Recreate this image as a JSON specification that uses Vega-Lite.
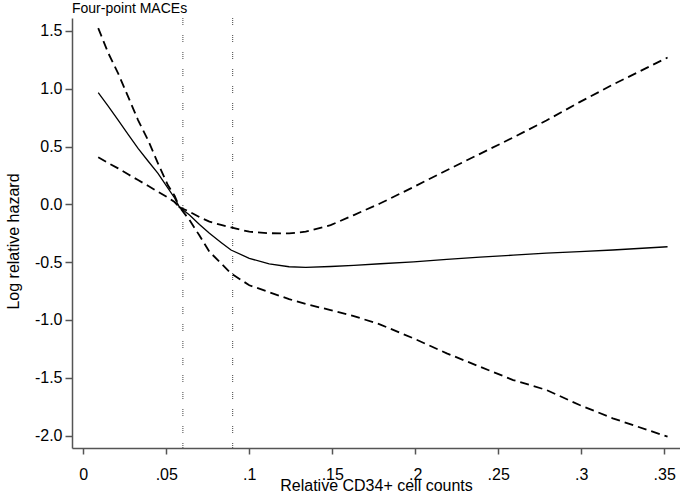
{
  "$schema": "https://vega.github.io/schema/vega-lite/v6.json",
  "width": 608,
  "height": 430,
  "autosize": {"type": "none"},
  "padding": {"left": 72, "top": 18, "right": 0, "bottom": 46},
  "background": "white",
  "title": {"text": "Four-point MACEs", "anchor": "start", "frame": "group", "fontSize": 14, "fontWeight": "normal", "font": "Liberation Sans", "color": "#000000", "offset": 2},
  "config": {
    "view": {"stroke": null},
    "axis": {"grid": false, "labelFont": "Liberation Sans", "titleFont": "Liberation Sans", "labelColor": "#000000", "titleColor": "#000000", "domainColor": "#555555", "tickColor": "#555555", "domainWidth": 1.5, "tickWidth": 1.5, "labelFontSize": 16, "titleFontSize": 16, "titleFontWeight": "normal"}
  },
  "data": {"values": [
    {"x": 0.009, "est": 0.966, "lo": 0.407, "hi": 1.525},
    {"x": 0.015, "est": 0.85, "lo": 0.358, "hi": 1.31},
    {"x": 0.021, "est": 0.729, "lo": 0.311, "hi": 1.133},
    {"x": 0.027, "est": 0.606, "lo": 0.26, "hi": 0.931},
    {"x": 0.033, "est": 0.484, "lo": 0.21, "hi": 0.729},
    {"x": 0.039, "est": 0.375, "lo": 0.16, "hi": 0.556},
    {"x": 0.045, "est": 0.268, "lo": 0.109, "hi": 0.355},
    {"x": 0.051, "est": 0.14, "lo": 0.058, "hi": 0.165},
    {"x": 0.055, "est": 0.055, "lo": 0.02, "hi": 0.075},
    {"x": 0.058, "est": -0.025, "lo": -0.025, "hi": -0.025},
    {"x": 0.064, "est": -0.093, "lo": -0.136, "hi": -0.064},
    {"x": 0.07, "est": -0.175, "lo": -0.27, "hi": -0.11},
    {"x": 0.076, "est": -0.251, "lo": -0.41, "hi": -0.15},
    {"x": 0.083, "est": -0.33, "lo": -0.51, "hi": -0.178},
    {"x": 0.089, "est": -0.395, "lo": -0.597, "hi": -0.2},
    {"x": 0.1, "est": -0.467, "lo": -0.7, "hi": -0.237},
    {"x": 0.112, "est": -0.516, "lo": -0.76, "hi": -0.25},
    {"x": 0.124, "est": -0.54, "lo": -0.82, "hi": -0.252},
    {"x": 0.134, "est": -0.545, "lo": -0.862, "hi": -0.237},
    {"x": 0.149, "est": -0.538, "lo": -0.915, "hi": -0.18},
    {"x": 0.163, "est": -0.528, "lo": -0.967, "hi": -0.093},
    {"x": 0.179, "est": -0.514, "lo": -1.04, "hi": 0.009},
    {"x": 0.199, "est": -0.498, "lo": -1.16, "hi": 0.15},
    {"x": 0.219, "est": -0.476, "lo": -1.289, "hi": 0.295},
    {"x": 0.239, "est": -0.457, "lo": -1.405, "hi": 0.437},
    {"x": 0.259, "est": -0.44, "lo": -1.52, "hi": 0.578},
    {"x": 0.279, "est": -0.422, "lo": -1.606, "hi": 0.725},
    {"x": 0.299, "est": -0.409, "lo": -1.736, "hi": 0.884},
    {"x": 0.319, "est": -0.395, "lo": -1.851, "hi": 1.035},
    {"x": 0.352, "est": -0.367, "lo": -2.01, "hi": 1.27}
  ]},
  "layer": [
    {
      "data": {"values": [{"ref": 0.06}, {"ref": 0.09}]},
      "mark": {"type": "rule", "color": "#444444", "strokeWidth": 1, "strokeDash": [1, 1, 1, 1, 1, 1, 1, 10]},
      "encoding": {
        "x": {"field": "ref", "type": "quantitative", "scale": {"domain": [-0.0068, 0.3595], "nice": false, "zero": false},
          "axis": {"title": "Relative CD34+ cell counts", "values": [0, 0.05, 0.1, 0.15, 0.2, 0.25, 0.3, 0.35], "labelExpr": "replace(format(datum.value, '.2~f'), '0.', '.')", "tickSize": 6, "labelPadding": 12, "titlePadding": -5, "labelFlush": false}}
      }
    },
    {
      "mark": {"type": "line", "color": "#000000", "strokeWidth": 1.8, "strokeDash": [9, 5]},
      "encoding": {
        "x": {"field": "x", "type": "quantitative", "scale": {"domain": [-0.0068, 0.3595], "nice": false, "zero": false},
          "axis": {"title": "Relative CD34+ cell counts", "values": [0, 0.05, 0.1, 0.15, 0.2, 0.25, 0.3, 0.35], "labelExpr": "replace(format(datum.value, '.2~f'), '0.', '.')", "tickSize": 6, "labelPadding": 12, "titlePadding": -5, "labelFlush": false}},
        "y": {"field": "hi", "type": "quantitative", "scale": {"domain": [-2.108, 1.612], "nice": false, "zero": false},
          "axis": {"title": "Log relative hazard", "values": [-2, -1.5, -1, -0.5, 0, 0.5, 1, 1.5], "labelExpr": "replace(format(datum.value, '.1f'), '\u2212', '-')", "tickSize": 7, "labelPadding": 3, "titlePadding": 13, "titleY": 223, "labelFlush": false}}
      }
    },
    {
      "mark": {"type": "line", "color": "#000000", "strokeWidth": 1.8, "strokeDash": [9, 5]},
      "encoding": {
        "x": {"field": "x", "type": "quantitative"},
        "y": {"field": "lo", "type": "quantitative", "title": "Log relative hazard"}
      }
    },
    {
      "mark": {"type": "line", "color": "#000000", "strokeWidth": 1.3},
      "encoding": {
        "x": {"field": "x", "type": "quantitative"},
        "y": {"field": "est", "type": "quantitative", "title": "Log relative hazard"}
      }
    }
  ]
}
